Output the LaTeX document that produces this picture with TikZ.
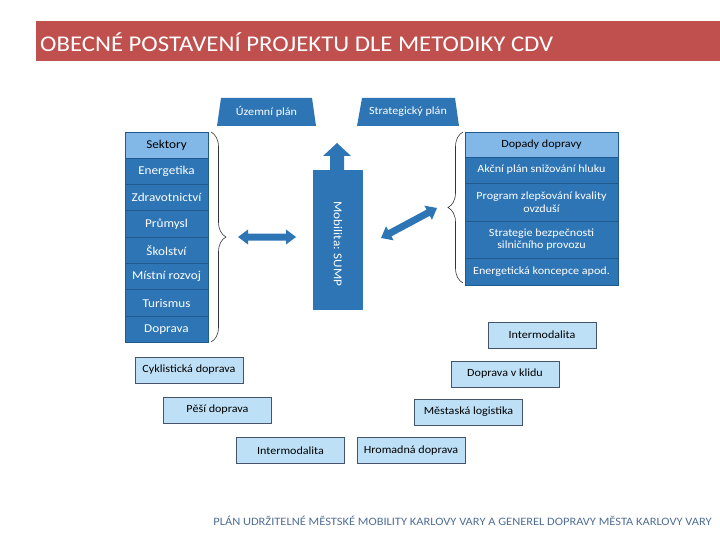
\documentclass[tikz,border=0pt]{standalone}
\usepackage{fontspec}
\setmainfont[FakeStretch=1.1]{Carlito}
\usetikzlibrary{decorations.pathreplacing}
\definecolor{titlered}{HTML}{C0504D}
\definecolor{dblue}{HTML}{2E75B6}
\definecolor{lblue}{HTML}{82B8E8}
\definecolor{cellline}{HTML}{1F5A8F}
\definecolor{pale}{HTML}{BDE0F6}
\definecolor{paleline}{HTML}{44546A}
\definecolor{foot}{HTML}{4F6E96}
\begin{document}
\begin{tikzpicture}[x=1pt,y=-1pt,
  cell/.style={draw=cellline, line width=0.8pt, fill=dblue, text=white, inner sep=0pt, align=center, font=\fontsize{11}{12.5}\selectfont},
  lcell/.style={cell, font=\fontsize{12}{13}\selectfont},
  headcell/.style={fill=lblue, text=black},
  palebox/.style={draw=paleline, line width=0.8pt, fill=pale, text=black, inner sep=0pt, minimum width=108pt, minimum height=26pt, font=\fontsize{11}{12}\selectfont},
  plan/.style={fill=dblue, draw=none},
  bigarrow/.style={fill=dblue, draw=none},
  bracestyle/.style={draw=black!80, line width=0.6pt, decorate}
]
\useasboundingbox (0,0) rectangle (720,540);
% title
\fill[titlered] (36,21) rectangle (720,61);
\node[anchor=west, text=white, inner sep=0pt, font=\fontsize{22.5}{24}\selectfont] (title) at (40,42) {OBECNÉ POSTAVENÍ PROJEKTU DLE METODIKY CDV};
% plans
\fill[plan] (217,126) -- (221,98) -- (312,98) -- (316,126) -- cycle;
\node[text=white, font=\fontsize{11}{12}\selectfont] (uzemni) at (266.5,112) {Územní plán};
\fill[plan] (357,126) -- (362,98) -- (455,98) -- (459,126) -- cycle;
\node[text=white, font=\fontsize{11}{12}\selectfont] (strat) at (408,112) {Strategický plán};
% left column
\foreach \t [count=\i from 0] in {Energetika,Zdravotnictví,Průmysl,Školství,Místní rozvoj,Turismus,Doprava}{
  \node[lcell, minimum width=83pt, minimum height=26.3pt] (L\i) at (166.5,{171.45+26.3*\i}) {\t};
}
\node[lcell, headcell, minimum width=83pt, minimum height=26.3pt] (Lh) at (166.5,145.15) {Sektory};
% right column
\node[cell, headcell, minimum width=153pt, minimum height=25pt] (Rh) at (541.5,144.5) {Dopady dopravy};
\node[cell, minimum width=153pt, minimum height=26pt] (R1) at (541.5,170) {Akční plán snižování hluku};
\node[cell, minimum width=153pt, minimum height=38pt] (R2) at (541.5,202) {Program zlepšování kvality\\ovzduší};
\node[cell, minimum width=153pt, minimum height=37pt] (R3) at (541.5,239.5) {Strategie bezpečnosti\\silničního provozu};
\node[cell, minimum width=153pt, minimum height=27pt] (R4) at (541.5,271.5) {Energetická koncepce apod.};
% braces
\draw[bracestyle, decoration={brace, amplitude=15pt}] (211,132) -- (211,342);
\draw[bracestyle, decoration={brace, amplitude=15pt}] (463,283) -- (463,132);
% mobility
\node[fill=dblue, draw=none, minimum width=50pt, minimum height=140pt, inner sep=0pt] (sump) at (338,240) {};
\node[rotate=-90, text=white, font=\fontsize{12}{13}\selectfont] (sumpt) at (338,244) {Mobilita: SUMP};
\fill[bigarrow] (330,170.5) -- (330,156) -- (323,156) -- (337,143) -- (351,156) -- (344,156) -- (344,170.5) -- cycle;
% horizontal double arrow
\fill[bigarrow] (238,237) -- (248,229.5) -- (248,233.5) -- (286,233.5) -- (286,229.5) -- (296,237) -- (286,244.5) -- (286,240.5) -- (248,240.5) -- (248,244.5) -- cycle;
% diagonal double arrow
\fill[bigarrow] (381,238) -- (393.60,240.33) -- (391.47,236.37) -- (429.84,215.81) -- (431.97,219.77) -- (437,208) -- (424.41,205.67) -- (426.54,209.63) -- (388.17,230.19) -- (386.04,226.23) -- cycle;
% pale boxes
\node[palebox] (im1) at (542,335) {Intermodalita};
\node[palebox] (kl) at (505,374) {Doprava v klidu};
\node[palebox] (lg) at (468.5,412) {Městaská logistika};
\node[palebox] (hd) at (411,450.5) {Hromadná doprava};
\node[palebox] (im2) at (290.5,450.5) {Intermodalita};
\node[palebox] (pd) at (217.5,410) {Pěší doprava};
\node[palebox] (cd) at (189,370) {Cyklistická doprava};
% footer
\node[anchor=east, text=foot, inner sep=0pt, font=\fontsize{11.3}{13}\selectfont] (footer) at (712,521) {PLÁN UDRŽITELNÉ MĚSTSKÉ MOBILITY KARLOVY VARY A GENEREL DOPRAVY MĚSTA KARLOVY VARY};
\end{tikzpicture}
\end{document}
